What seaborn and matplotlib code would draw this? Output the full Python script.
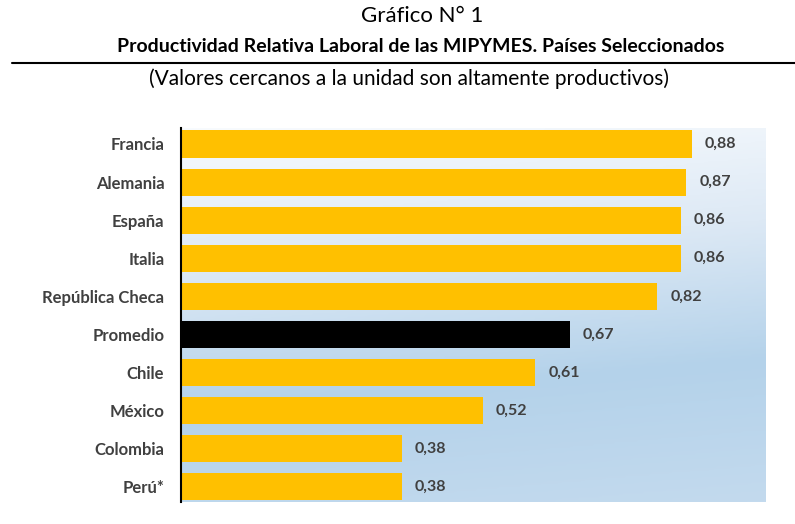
import numpy as np
import matplotlib.pyplot as plt
from matplotlib.colors import LinearSegmentedColormap
import seaborn as sns

# ── Data ──────────────────────────────────────────────────────
PAISES  = ['Francia', 'Alemania', 'España', 'Italia', 'República Checa',
           'Promedio', 'Chile', 'México', 'Colombia', 'Perú*']
VALORES = [0.88, 0.87, 0.86, 0.86, 0.82, 0.67, 0.61, 0.52, 0.38, 0.38]
COLORES = ['#000000' if p == 'Promedio' else '#FFC000' for p in PAISES]

TEXT_C = '#404040'

sns.set_theme(style='white')
plt.rcParams['font.family'] = ['Lato', 'DejaVu Sans']

fig = plt.figure(figsize=(7.95, 5.24), dpi=100)
ax = fig.add_axes([181 / 795, 1 - 502 / 524, (766 - 181) / 795, (502 - 128) / 524])

# ── Gradient background ───────────────────────────────────────
grad_cmap = LinearSegmentedColormap.from_list('bg', ['#F8FBFE', '#DDE9F5', '#B4D2EA', '#C3DAEE'])
yy, xx = np.mgrid[0:1:200j, 0:1:200j]
t = np.clip(0.88 * yy + 0.12 * xx, 0, 1)
ax.imshow(t, cmap=grad_cmap, extent=(0, 1, 0, 1), transform=ax.transAxes,
          aspect='auto', zorder=0, origin='upper', vmin=0, vmax=1)

# ── Bars ──────────────────────────────────────────────────────
sns.barplot(x=VALORES, y=PAISES, hue=PAISES, palette=COLORES, legend=False,
            width=0.71, saturation=1, linewidth=0, ax=ax, zorder=2)

for i, v in enumerate(VALORES):
    ax.text(v + 0.022, i, f'{v:.2f}'.replace('.', ','), va='center', ha='left',
            fontsize=11.5, fontweight='bold', color=TEXT_C, zorder=3)

ax.set_xlim(0, 1.007)
ax.set_ylim(9.4, -0.42)
ax.set_xlabel('')
ax.set_ylabel('')
ax.set_xticks([])
ax.tick_params(axis='y', length=0, pad=12)
for lab in ax.get_yticklabels():
    lab.set_fontweight('bold')
    lab.set_fontsize(12)
    lab.set_color(TEXT_C)

for side in ['top', 'right', 'bottom']:
    ax.spines[side].set_visible(False)
ax.spines['left'].set_color('black')
ax.spines['left'].set_linewidth(1.5)
ax.spines['left'].set_zorder(4)

# ── Titles ────────────────────────────────────────────────────
fig.text(0.531, 1 - 16 / 524, 'Gráfico N° 1', ha='center', va='center',
         fontsize=16, color='black')
fig.text(0.529, 1 - 47 / 524, 'Productividad Relativa Laboral de las MIPYMES. Países Seleccionados',
         ha='center', va='center', fontsize=14, fontweight='bold', color='black')
fig.add_artist(plt.Line2D([12 / 795, 1.0], [1 - 63 / 524, 1 - 63 / 524],
                          color='black', linewidth=1.5, transform=fig.transFigure))
fig.text(0.515, 1 - 79 / 524, '(Valores cercanos a la unidad son altamente productivos)',
         ha='center', va='center', fontsize=15, color='black')

plt.savefig('out.png', dpi=100)
plt.close()
